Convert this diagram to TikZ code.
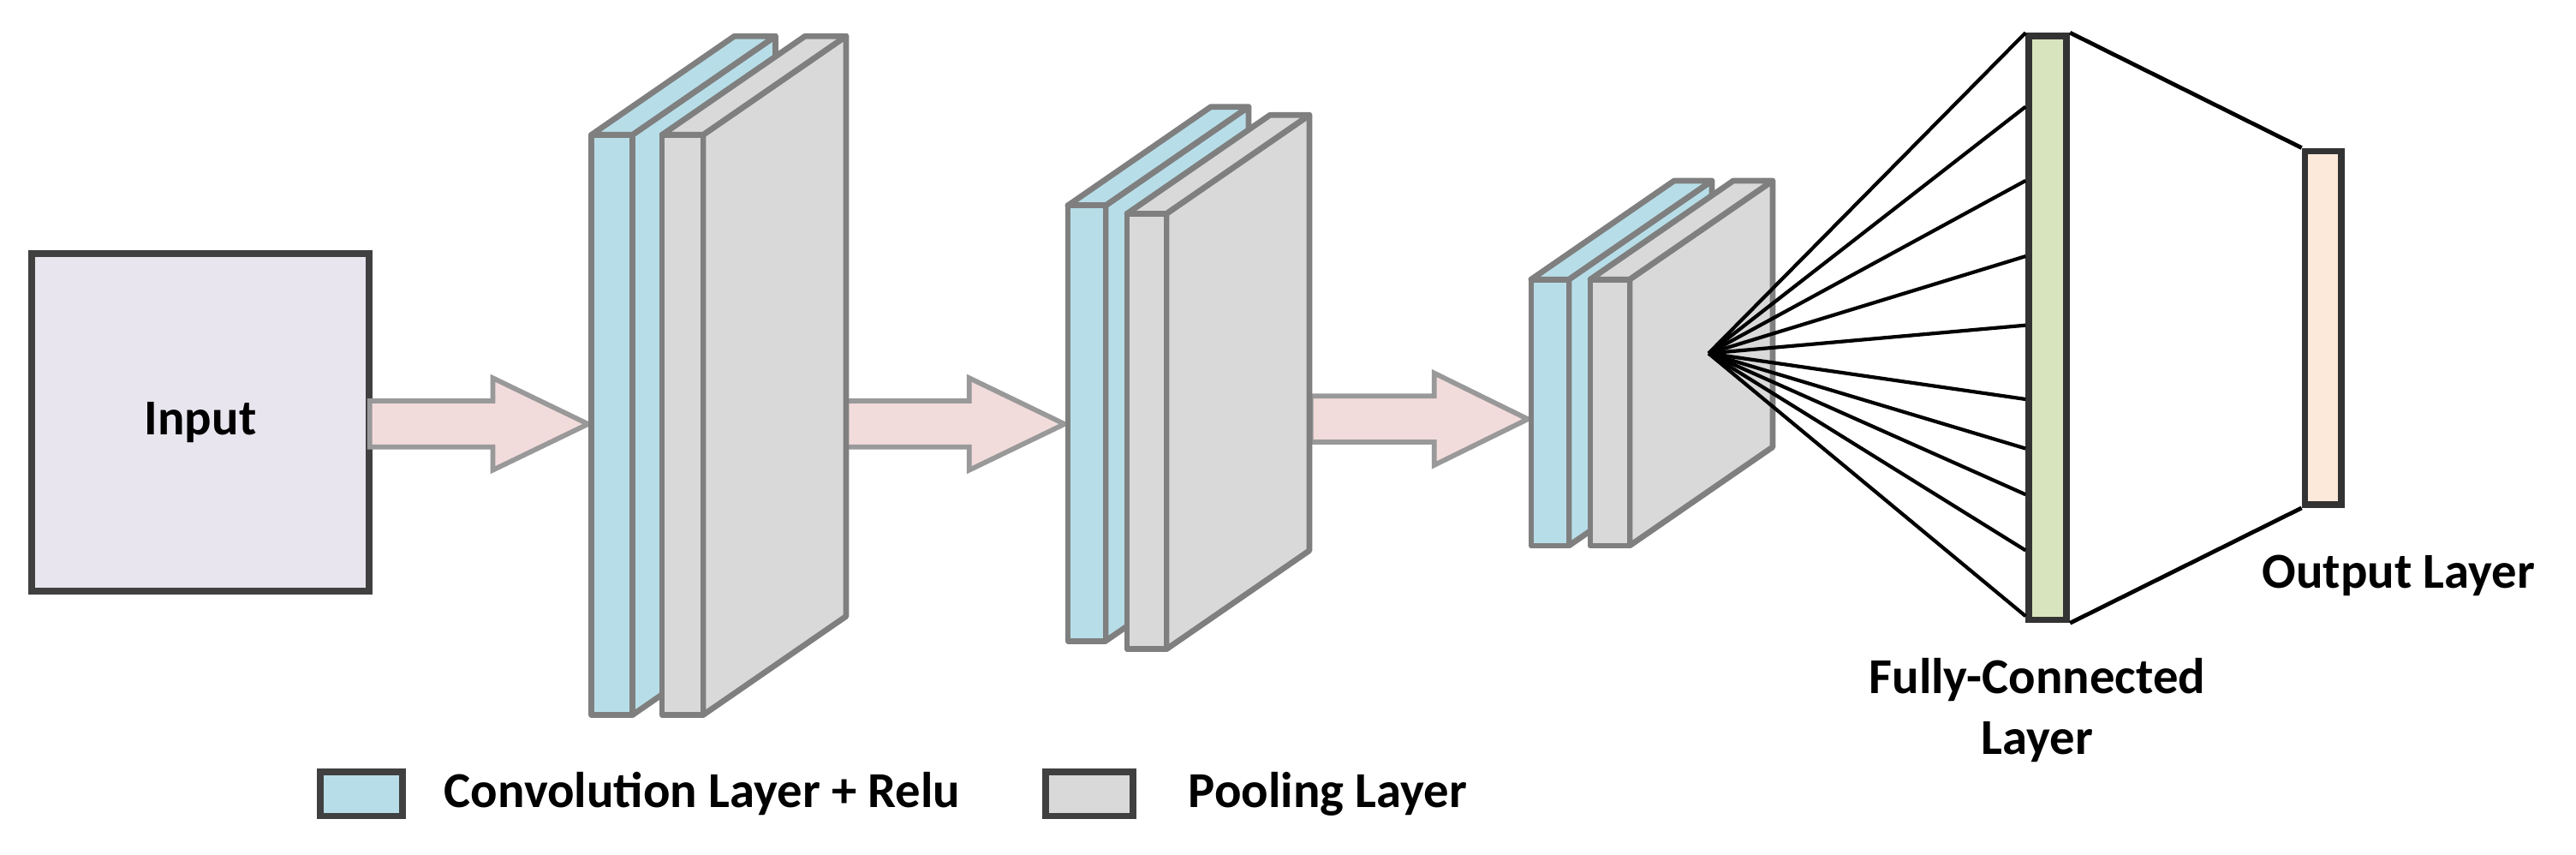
\documentclass[tikz,border=0pt]{standalone}
\usepackage{fontspec}
\setmainfont{Carlito}
\usetikzlibrary{calc}

\definecolor{convblue}{HTML}{B7DEE8}
\definecolor{poolgray}{HTML}{D9D9D9}
\definecolor{edgegray}{HTML}{7F7F7F}
\definecolor{inputlav}{HTML}{E9E5EE}
\definecolor{flowpink}{HTML}{F2DCDB}
\definecolor{fcgreen}{HTML}{D7E4BD}
\definecolor{outpeach}{HTML}{FDE9D9}

\tikzset{
  slabface/.style={draw=edgegray, line width=0.35mm, line join=round},
  flow/.style={fill=flowpink, draw=edgegray!80, line width=0.3mm},
  lbl/.style={font=\bfseries\fontsize{8.7}{10.5}\selectfont, align=center},
  bar/.style={draw=black!80, line width=0.4mm, inner sep=0pt}
}

% slab: x, top, bottom, width, colour
\newcommand{\slab}[5]{
  \fill[#5, slabface] (#1+#4,#2) -- ++(87,-60) -- (#1+#4+87,#3-60) -- (#1+#4,#3) -- cycle;
  \fill[#5, slabface] (#1,#2) -- ++(87,-60) -- ++(#4,0) -- (#1+#4,#2) -- cycle;
  \fill[#5, slabface] (#1,#2) rectangle (#1+#4,#3);
}

% arrow: x start, x head, x tip, y centre
\newcommand{\flowarrow}[4]{
  \draw[flow] (#1,#4-14) -- (#2,#4-14) -- (#2,#4-28) -- (#3,#4)
    -- (#2,#4+28) -- (#2,#4+14) -- (#1,#4+14) -- cycle;
}

\begin{document}
\begin{tikzpicture}[x=0.01cm, y=-0.01cm]
  \useasboundingbox (0,0) rectangle (1568,520);

  %% Input
  \node[draw=black!75, line width=0.4mm, fill=inputlav, minimum width=2.05cm,
        minimum height=2.05cm, lbl] (input) at (122,257) {Input};

  %% Pfeile
  \flowarrow{225}{300}{358}{258}
  \flowarrow{515}{590}{648}{258}
  \flowarrow{798}{873}{930}{255}

  %% Schichten
  \slab{360}{82}{435}{25}{convblue}
  \slab{403}{82}{435}{25}{poolgray}
  \slab{650}{125}{390}{23}{convblue}
  \slab{686}{130}{395}{24}{poolgray}
  \slab{932}{170}{332}{23}{convblue}
  \slab{968}{170}{332}{24}{poolgray}

  %% Fully connected
  \node[bar, fill=fcgreen, minimum width=0.23cm, minimum height=3.55cm] (fc) at (1246.5,199.5) {};
  \node[bar, fill=outpeach, minimum width=0.22cm, minimum height=2.15cm] (out) at (1414,199.5) {};
  \coordinate (apex) at (1040,215);
  \foreach \y in {0,45,90,136,178,223,253,281,315,355}
    \draw[line width=0.22mm] (apex) -- ($(fc.north west)+(0,\y)$);
  \draw[line width=0.25mm] (fc.north east) -- (out.north west);
  \draw[line width=0.25mm] (fc.south east) -- (out.south west);

  \node[lbl] (outlbl) at (1460,350) {Output Layer};
  \node[lbl] (fclbl) at (1240,432) {Fully-Connected\\Layer};

  %% Legende
  \node[draw=black!75, line width=0.4mm, fill=convblue, minimum width=0.5cm,
        minimum height=0.27cm, inner sep=0pt] (keyconv) at (220,483) {};
  \node[lbl, anchor=west] (keyconvtxt) at (258,483) {Convolution Layer + Relu};
  \node[draw=black!75, line width=0.4mm, fill=poolgray, minimum width=0.53cm,
        minimum height=0.27cm, inner sep=0pt] (keypool) at (663,483) {};
  \node[lbl, anchor=west] (keypooltxt) at (711,483) {Pooling Layer};
\end{tikzpicture}
\end{document}
